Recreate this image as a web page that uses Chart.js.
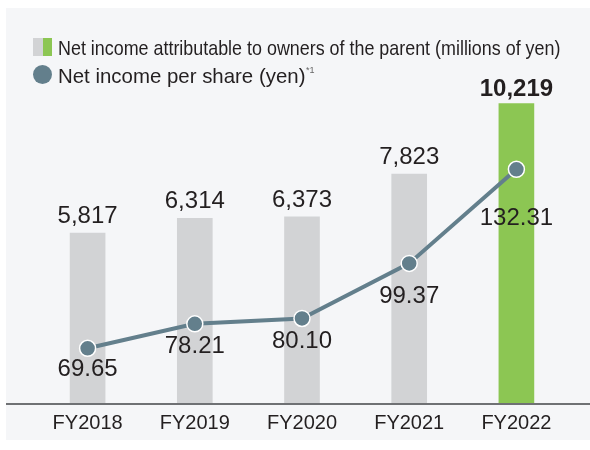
<!DOCTYPE html>
<html>
<head>
<meta charset="utf-8">
<script src="https://cdn.jsdelivr.net/npm/chart.js@4/dist/chart.umd.min.js"></script>
<style>
  html, body { margin: 0; padding: 0; background: #fff; }
  body { width: 590px; height: 450px; position: relative; overflow: hidden;
         font-family: "Liberation Sans", Arial, sans-serif; color: #231f20; }
  #panel { position: absolute; left: 6px; top: 8px; width: 584px; height: 432px; background: #f5f6f8; }
  #chartBox { position: absolute; left: 0; top: 0; width: 590px; height: 450px; }
  .lg { position: absolute; font-size: 21px; line-height: 21px; white-space: nowrap; transform-origin: 0 0; }
  .sw { position: absolute; }
</style>
</head>
<body>
<div id="panel"></div>
<div id="chartBox"><canvas id="myChart" width="590" height="450"></canvas></div>

<!-- legend: two-tone square + circle -->
<div class="sw" style="left:33px;top:38px;width:10px;height:18px;background:#d2d3d5"></div>
<div class="sw" style="left:43px;top:38px;width:9px;height:18px;background:#8cc653"></div>
<div class="lg" id="lg1" data-w="502" style="left:58px;top:37px">Net income attributable to owners of the parent (millions of yen)</div>
<div class="sw" style="left:33px;top:65px;width:19px;height:19px;border-radius:50%;background:#637f8c"></div>
<div class="lg" id="lg2" data-w="247" style="left:58px;top:65px">Net income per share (yen)</div>
<div class="lg" style="left:306px;top:66px;font-size:9px;line-height:9px;color:#666">*1</div>

<script>
// Categories (fiscal years) //
const categories = ["FY2018", "FY2019", "FY2020", "FY2021", "FY2022"];
// Net income attributable to owners of the parent, millions of yen //
const netIncome = [5817, 6314, 6373, 7823, 10219];
// Net income per share, yen //
const perShare = [69.65, 78.21, 80.10, 99.37, 132.31];

// squeeze legend text to the widths in the picture
document.querySelectorAll(".lg[data-w]").forEach(function (el) {
  el.style.transform = "scaleX(" + (Number(el.dataset.w) / el.offsetWidth) + ")";
});

const FONT = "'Liberation Sans', Arial, sans-serif";
const TEXT = "#231f20";

// long axis line across the whole panel //
const axisLine = {
  id: "axisLine",
  afterDatasetsDraw(chart) {
    const ctx = chart.ctx;
    const y = chart.chartArea.bottom;
    ctx.save();
    ctx.strokeStyle = "#6f7174";
    ctx.lineWidth = 2;
    ctx.beginPath();
    ctx.moveTo(6, y);
    ctx.lineTo(590, y);
    ctx.stroke();
    ctx.restore();
  }
};

// value labels //
const valueLabels = {
  id: "valueLabels",
  afterDatasetsDraw(chart) {
    const ctx = chart.ctx;
    ctx.save();
    ctx.fillStyle = TEXT;
    ctx.textAlign = "center";

    // bars: above the top
    chart.getDatasetMeta(0).data.forEach(function (bar, i) {
      const last = i === netIncome.length - 1;
      ctx.font = (last ? "bold " : "") + "24px " + FONT;
      ctx.textBaseline = "alphabetic";
      ctx.fillText(netIncome[i].toLocaleString("en-US"), bar.x, bar.y - (last ? 8 : 10));
    });

    // line: below each point
    const drop = [13, 15, 15, 25, 41];
    ctx.font = "24px " + FONT;
    ctx.textBaseline = "top";
    chart.getDatasetMeta(1).data.forEach(function (pt, i) {
      ctx.fillText(perShare[i].toFixed(2), pt.x, pt.y + drop[i] - 4);
    });
    ctx.restore();
  }
};

new Chart("myChart", {
  data: {
    labels: categories,
    datasets: [
      // net income bars //
      {
        type: "bar",
        data: netIncome,
        yAxisID: "y",
        backgroundColor: netIncome.map((v, i) => i === netIncome.length - 1 ? "#8cc653" : "#d2d3d5"),
        barThickness: 35,
        order: 2
      },
      // per share line, drawn on top //
      {
        type: "line",
        data: perShare,
        yAxisID: "y1",
        borderColor: "#637f8c",
        borderWidth: 4,
        pointRadius: 8,
        pointBackgroundColor: "#637f8c",
        pointBorderColor: "#ffffff",
        pointBorderWidth: 1.5,
        fill: false,
        tension: 0,
        order: 1
      }
    ]
  },
  options: {
    responsive: false,
    animation: false,
    layout: { padding: { left: 34, right: 20, top: 64, bottom: 0 } },
    plugins: { legend: { display: false }, tooltip: { enabled: false } },
    scales: {
      x: {
        grid: { display: false, drawTicks: false },
        border: { display: false },
        ticks: { color: TEXT, font: { family: FONT, size: 20 }, padding: 7 },
        afterFit(scale) { scale.height = 46; }
      },
      y: { display: false, min: 0, max: 11570 },
      y1: { display: false, min: 50.15, max: 169.17 }
    }
  },
  plugins: [axisLine, valueLabels]
});
</script>
</body>
</html>
